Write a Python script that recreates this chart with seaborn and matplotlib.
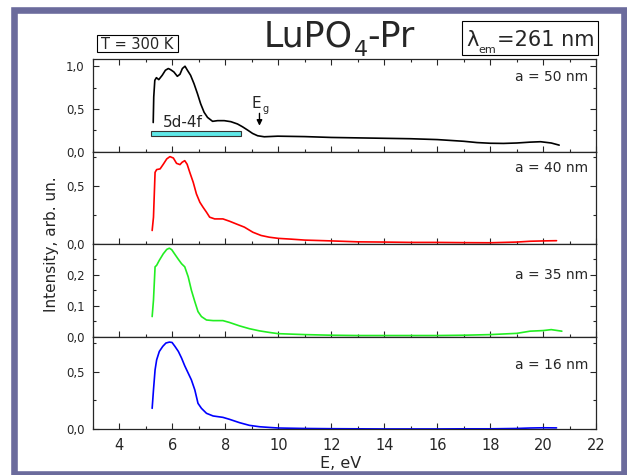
import numpy as np
import matplotlib
matplotlib.use('Agg')
import matplotlib.pyplot as plt
import seaborn as sns
import pandas as pd
from matplotlib.patches import Rectangle
from matplotlib.ticker import MultipleLocator, FuncFormatter

# Data: E in eV, intensity in arb. units
E_50 = [5.28, 5.30, 5.34, 5.40, 5.49, 5.62, 5.74, 5.85, 5.93, 6.06, 6.19, 6.29,
        6.38, 6.48, 6.57, 6.69, 6.82, 6.95, 7.07, 7.20, 7.33, 7.52, 7.71, 7.96,
        8.21, 8.46, 8.65, 8.84, 9.03, 9.22, 9.47, 9.98, 11, 12, 13, 14, 15, 16,
        17, 17.5, 18, 18.5, 19, 19.5, 19.9, 20.3, 20.6]
I_50 = [0.34, 0.64, 0.835, 0.866, 0.843, 0.894, 0.953, 0.973, 0.961, 0.933,
        0.882, 0.906, 0.973, 1.0, 0.953, 0.894, 0.795, 0.678, 0.56, 0.46, 0.40,
        0.354, 0.362, 0.362, 0.35, 0.323, 0.29, 0.252, 0.212, 0.185, 0.173,
        0.18, 0.175, 0.165, 0.16, 0.155, 0.15, 0.14, 0.12, 0.105, 0.097, 0.095,
        0.10, 0.11, 0.115, 0.10, 0.075]

E_40 = [5.24, 5.29, 5.35, 5.41, 5.54, 5.66, 5.79, 5.91, 6.04, 6.16, 6.29, 6.37,
        6.47, 6.56, 6.66, 6.79, 6.91, 7.04, 7.16, 7.29, 7.41, 7.60, 7.91, 8.16,
        8.41, 8.72, 9.04, 9.35, 9.66, 10.0, 10.5, 11, 12, 13, 14, 15, 16, 17,
        18, 18.5, 19, 19.5, 20, 20.5]
I_40 = [0.118, 0.233, 0.62, 0.644, 0.65, 0.69, 0.736, 0.756, 0.744, 0.698,
        0.687, 0.707, 0.721, 0.69, 0.62, 0.534, 0.434, 0.362, 0.319, 0.276,
        0.233, 0.218, 0.218, 0.198, 0.175, 0.147, 0.103, 0.075, 0.06, 0.05,
        0.043, 0.035, 0.028, 0.02, 0.018, 0.015, 0.015, 0.013, 0.012, 0.015,
        0.018, 0.025, 0.028, 0.03]

E_35 = [5.24, 5.29, 5.35, 5.41, 5.51, 5.66, 5.79, 5.89, 5.98, 6.10, 6.23, 6.35,
        6.47, 6.60, 6.72, 6.85, 6.97, 7.10, 7.29, 7.54, 7.91, 8.16, 8.54, 8.91,
        9.29, 9.66, 10, 11, 12, 13, 14, 15, 16, 17, 18, 18.5, 19, 19.5, 20,
        20.3, 20.7]
I_35 = [0.065, 0.118, 0.225, 0.23, 0.246, 0.267, 0.281, 0.285, 0.28, 0.265,
        0.249, 0.235, 0.225, 0.193, 0.15, 0.113, 0.081, 0.065, 0.054, 0.052,
        0.052, 0.046, 0.035, 0.026, 0.019, 0.014, 0.01, 0.007, 0.005, 0.004,
        0.004, 0.004, 0.004, 0.005, 0.007, 0.009, 0.011, 0.018, 0.02, 0.023,
        0.018]

E_16 = [5.24, 5.29, 5.35, 5.41, 5.51, 5.64, 5.76, 5.89, 5.99, 6.10, 6.23, 6.35,
        6.47, 6.60, 6.72, 6.85, 6.97, 7.10, 7.29, 7.54, 7.91, 8.16, 8.54, 8.91,
        9.29, 9.66, 10, 11, 12, 13, 14, 15, 16, 17, 18, 19, 19.5, 20, 20.5]
I_16 = [0.182, 0.341, 0.514, 0.601, 0.673, 0.717, 0.746, 0.754, 0.751, 0.717,
        0.673, 0.616, 0.549, 0.486, 0.428, 0.341, 0.225, 0.182, 0.139, 0.116,
        0.104, 0.087, 0.058, 0.035, 0.023, 0.017, 0.012, 0.008, 0.006, 0.005,
        0.004, 0.004, 0.004, 0.005, 0.005, 0.008, 0.012, 0.014, 0.013]

labels = ['a = 50 nm', 'a = 40 nm', 'a = 35 nm', 'a = 16 nm']
colors = ['black', '#ff0000', '#22ee22', '#0000ff']
series = [(E_50, I_50), (E_40, I_40), (E_35, I_35), (E_16, I_16)]
ylims = [1.086, 0.80, 0.298, 0.80]
ymajor = [0.5, 0.5, 0.1, 0.5]
label_y = [0.804, 0.827, 0.668, 0.694]

# 5d-4f band and band gap
band = (5.18, 8.6)
Eg = 9.29

sns.set_style('ticks', {'xtick.direction': 'in', 'ytick.direction': 'in'})
plt.rcParams['font.family'] = ['DejaVu Sans']
plt.rcParams['mathtext.fontset'] = 'dejavusans'

W, H = 627, 475
fig, axes = plt.subplots(4, 1, sharex=True, figsize=(W / 100, H / 100), dpi=100,
                         gridspec_kw={'hspace': 0})
fig.subplots_adjust(left=0.148, right=0.951, bottom=0.096, top=0.876)

def px(x, y):
    return (x / W, 1 - y / H)

fmt = FuncFormatter(lambda v, p: ('%.1f' % v).replace('.', ','))

for i, ax in enumerate(axes):
    x, y = series[i]
    df = pd.DataFrame({'E': x, 'I': y})
    sns.lineplot(data=df, x='E', y='I', ax=ax, color=colors[i], lw=1.2,
                 sort=False, estimator=None)
    ax.set_xlim(3, 22)
    ax.set_ylim(0, ylims[i])
    ax.xaxis.set_major_locator(MultipleLocator(2))
    ax.xaxis.set_minor_locator(MultipleLocator(1))
    ax.yaxis.set_major_locator(MultipleLocator(ymajor[i]))
    ax.yaxis.set_minor_locator(MultipleLocator(ymajor[i] / 2))
    ax.yaxis.set_major_formatter(fmt)
    ax.set_xlabel('')
    ax.set_ylabel('')
    for s in ax.spines.values():
        s.set_linewidth(0.9)
    ax.tick_params(which='both', direction='in', right=True, top=(i == 0),
                   width=0.8, labelsize=8.5, pad=6)
    ax.tick_params(which='major', length=4)
    ax.tick_params(which='minor', length=2.5)
    ax.tick_params(axis='x', labelsize=10.5, pad=6)
    ax.text(0.984, label_y[i], labels[i], transform=ax.transAxes,
            ha='right', va='center', fontsize=10)

ax0 = axes[0]
ax0.add_patch(Rectangle((band[0], 0.177), band[1] - band[0], 0.067,
                        facecolor='#5fe8e8', edgecolor='#333333', lw=0.8))
ax0.text(6.39, 0.285, '5d-4f', ha='center', va='baseline', fontsize=11)
ax0.annotate('', xy=(Eg, 0.27), xytext=(Eg, 0.48),
             arrowprops=dict(arrowstyle='-|>', color='black', lw=1,
                             mutation_scale=8))
ax0.text(Eg - 0.3, 0.515, 'E', ha='left', va='baseline', fontsize=11)
ax0.text(Eg + 0.12, 0.46, 'g', ha='left', va='baseline', fontsize=7)

# Title: LuPO4-Pr with a deep subscript
fig.text(*px(353, 46.7), 'LuPO', ha='right', va='baseline', fontsize=25)
fig.text(*px(354, 56.5), '4', ha='left', va='baseline', fontsize=16)
fig.text(*px(367, 46.7), '-Pr', ha='left', va='baseline', fontsize=25)

fig.add_artist(Rectangle(px(97, 52), 81 / W, 16.5 / H, transform=fig.transFigure,
                         facecolor='white', edgecolor='black', lw=0.8))
fig.text(*px(137.5, 44.2), 'T = 300 K', ha='center', va='center', fontsize=10.5)

fig.add_artist(Rectangle(px(461.7, 55), 136.6 / W, 34.3 / H,
                         transform=fig.transFigure, facecolor='white',
                         edgecolor='black', lw=0.8))
fig.text(*px(466, 46), '\u03bb', ha='left', va='baseline', fontsize=15)
fig.text(*px(478.5, 53), 'em', ha='left', va='baseline', fontsize=8)
fig.text(*px(594.5, 46), '=261 nm', ha='right', va='baseline', fontsize=15)

fig.text(*px(52, 244), 'Intensity, arb. un.', rotation=90, ha='center',
         va='center', fontsize=11)
fig.text(*px(340.5, 463), 'E, eV', ha='center', va='center', fontsize=11.5)

# Frame around the picture
fig.add_artist(Rectangle(px(14, 474), 609.5 / W, 464 / H,
                         transform=fig.transFigure, facecolor='none',
                         edgecolor='#6b6b9c', lw=4.75, zorder=10))

plt.savefig('out.png', dpi=100)
